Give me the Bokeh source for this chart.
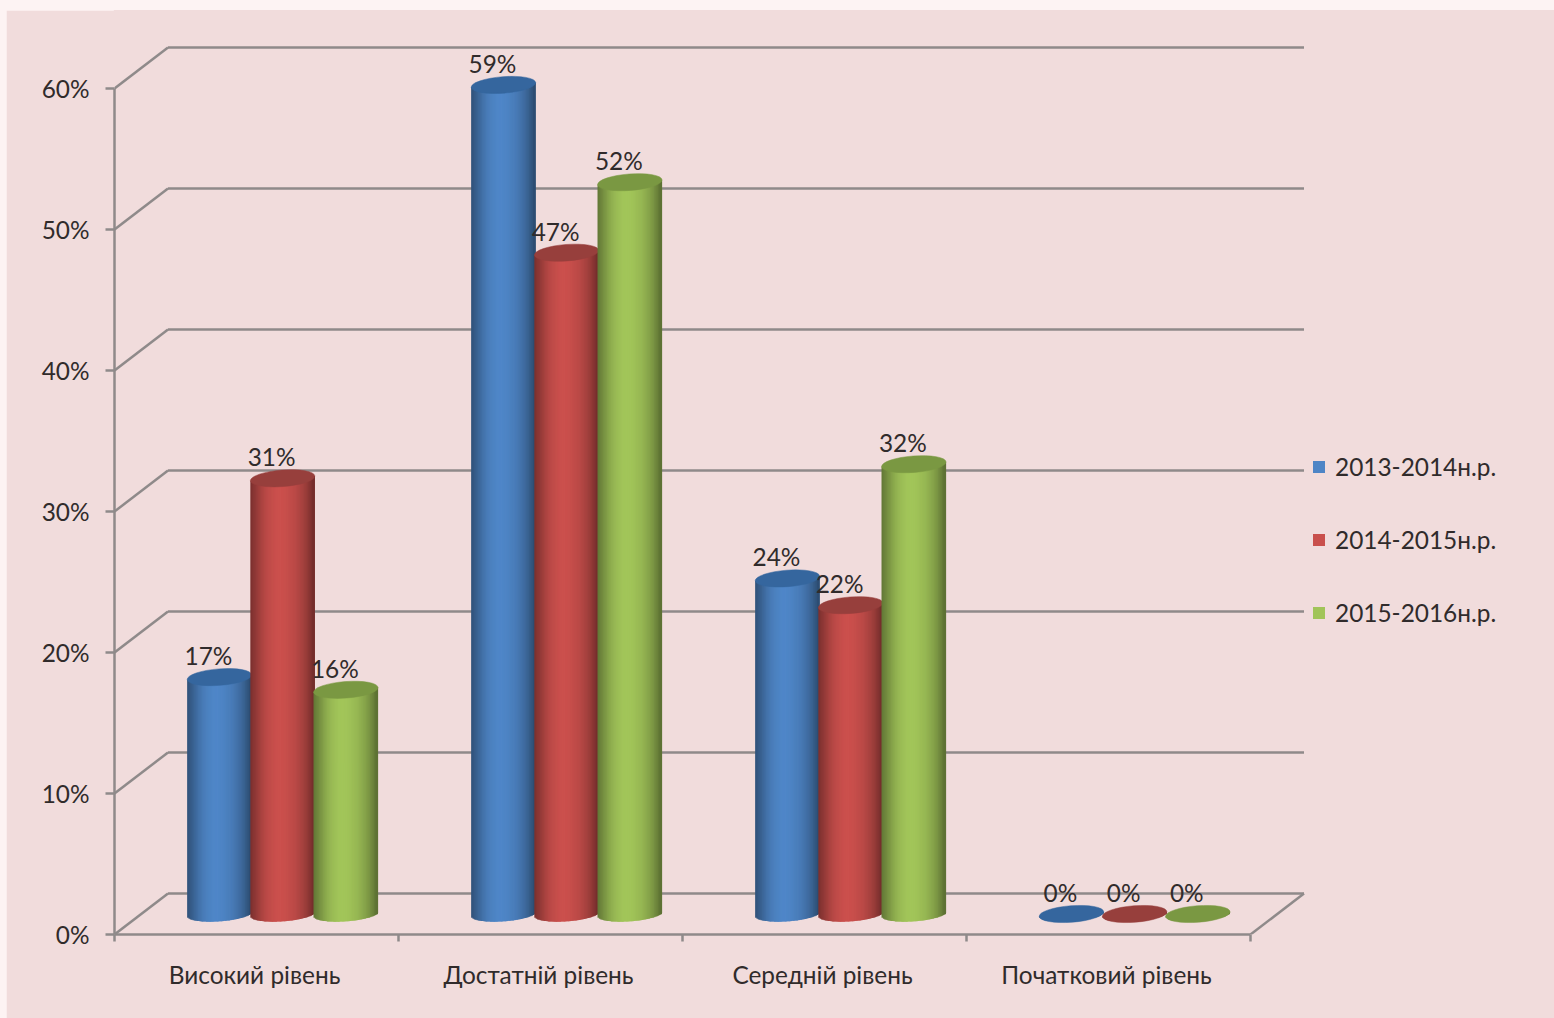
from bokeh.plotting import figure
from bokeh.models import Range1d, LinearAxis, FixedTicker, Legend, LegendItem, ColumnDataSource
from bokeh.core.properties import value
from bokeh.embed import file_html
from bokeh.resources import INLINE

categories = ["Високий рівень", "Достатній рівень", "Середній рівень", "Початковий рівень"]
series_names = ["2013-2014н.р.", "2014-2015н.р.", "2015-2016н.р."]
series_2013 = [16.8, 58.8, 23.8, 0]
series_2014 = [30.9, 46.9, 21.9, 0]
series_2015 = [15.9, 51.9, 31.9, 0]
labels_2013 = ["17%", "59%", "24%", "0%"]
labels_2014 = ["31%", "47%", "22%", "0%"]
labels_2015 = ["16%", "52%", "32%", "0%"]
y_ticks = [0, 10, 20, 30, 40, 50, 60]
y_tick_labels = ["0%", "10%", "20%", "30%", "40%", "50%", "60%"]

BG = "#F1DCDC"
GRID = "#8F8A8A"
TEXT = "#302B2B"
FONT = "Lato"
SIZE = "24.4px"
BASE = [(74, 126, 187), (190, 75, 72), (152, 185, 84)]
TOPS = ["#35669E", "#973F3C", "#7A9842"]
SHADE0 = [0.66, 0.72, 0.78, 0.84, 0.90, 0.95, 0.99, 1.02, 1.04, 1.06, 1.07, 1.07,
          1.06, 1.05, 1.03, 1.01, 0.99, 0.96, 0.92, 0.88, 0.83, 0.77, 0.70, 0.62]
SHADE = []
for a, b in zip(SHADE0, SHADE0[1:] + SHADE0[-1:]):
    SHADE += [a, (a + b) / 2]

W, H = 1548, 1008
PX_X = 284.0           # pixels per category
PX_Y = 14.1            # pixels per percent
LEFT, BOTTOM = 108, 84
x_max = (W - LEFT) / PX_X
y_max = (H - BOTTOM) / PX_Y
DX, DY = 53.5 / PX_X, 41.0 / PX_Y   # depth of the 3D box

p = figure(width=W, height=H, output_backend="svg", toolbar_location=None,
           x_range=Range1d(0, x_max), y_range=Range1d(0, y_max),
           x_axis_type=None, y_axis_type=None,
           min_border_left=LEFT, min_border_bottom=BOTTOM, min_border_top=0, min_border_right=0,
           background_fill_color=BG, border_fill_color=BG,
           outline_line_color=BG, outline_line_width=1.5)
p.grid.visible = False

xaxis = LinearAxis(ticker=FixedTicker(ticks=[i + 0.493 for i in range(len(categories))],
                                      minor_ticks=list(range(len(categories) + 1))),
                   major_label_overrides={i + 0.493: c for i, c in enumerate(categories)},
                   bounds=(0, len(categories)),
                   axis_line_color=GRID, axis_line_width=2.5,
                   major_tick_line_color=None, major_tick_in=0, major_tick_out=0,
                   minor_tick_line_color=GRID, minor_tick_line_width=2.5, minor_tick_in=0, minor_tick_out=7,
                   major_label_text_font=FONT, major_label_text_font_size=SIZE,
                   major_label_text_color=TEXT, major_label_standoff=18)
p.add_layout(xaxis, "below")

yaxis = LinearAxis(ticker=FixedTicker(ticks=y_ticks),
                   major_label_overrides=dict(zip(y_ticks, y_tick_labels)),
                   bounds=(0, 60),
                   axis_line_color=GRID, axis_line_width=2.5,
                   major_tick_line_color=GRID, major_tick_line_width=2.5, major_tick_in=0, major_tick_out=9,
                   minor_tick_line_color=None,
                   major_label_text_font=FONT, major_label_text_font_size=SIZE,
                   major_label_text_color=TEXT, major_label_standoff=16)
p.add_layout(yaxis, "left")

# walls and floor
n = len(categories)
x0 = [0.0 for v in y_ticks] + [DX for v in y_ticks] + [float(n)]
y0 = [float(v) for v in y_ticks] + [v + DY for v in y_ticks] + [0.0]
x1 = [DX for v in y_ticks] + [n + DX for v in y_ticks] + [n + DX]
y1 = [v + DY for v in y_ticks] + [v + DY for v in y_ticks] + [DY]
p.segment(x0, y0, x1, y1, line_color=GRID, line_width=2.5)

# cylinders
RX = 32.3 / PX_X
RY = 7.3 / PX_Y
TILT = 2.4 / PX_Y
LIFT = (934 - 913.5) / PX_Y
OVERLAP = 1.2 / PX_X
OFFSET = 0.592
STEP = 0.2225
STRIPS = len(SHADE)

all_series = [series_2013, series_2014, series_2015]
all_labels = [labels_2013, labels_2014, labels_2015]
items = []
for s, (vals, labs) in enumerate(zip(all_series, all_labels)):
    centers = [i + OFFSET + (s - 1) * STEP for i in range(n)]
    L, R, T, B, C = [], [], [], [], []
    for cx, v in zip(centers, vals):
        for k, f in enumerate(SHADE):
            u = (k + 0.5) / STRIPS * 2 - 1
            curve = (1 - u * u) ** 0.5
            L.append(cx + (k / STRIPS * 2 - 1) * RX)
            R.append(cx + ((k + 1) / STRIPS * 2 - 1) * RX + (OVERLAP if k < STRIPS - 1 else 0))
            T.append(LIFT + v + TILT * u)
            B.append(LIFT - RY * curve + TILT * u)
            C.append("#%02X%02X%02X" % tuple(min(255, int(c * f)) for c in BASE[s]))
    r = p.quad(left="l", right="r", top="t", bottom="b", fill_color="c", line_color=None,
               source=ColumnDataSource(dict(l=L, r=R, t=T, b=B, c=C)))
    items.append(LegendItem(label=series_names[s], renderers=[r], index=STRIPS // 2))
    tops = [LIFT + v for v in vals]
    p.ellipse(centers, tops, width=64.6, height=16.5, width_units="screen", height_units="screen",
              angle=0.075, fill_color=TOPS[s], line_color=TOPS[s], line_width=0.5)

for s, (vals, labs) in enumerate(zip(all_series, all_labels)):
    centers = [i + OFFSET + (s - 1) * STEP for i in range(n)]
    tops = [LIFT + v for v in vals]
    p.text(centers, tops, text=labs, text_font=value(FONT), text_font_size=SIZE, text_color=TEXT,
           text_align="center", text_baseline="middle", x_offset=-11, y_offset=-21.5)

legend = Legend(items=items, location=(1197, 307), orientation="vertical",
                margin=0, padding=0, spacing=43, glyph_width=15, glyph_height=15, label_height=30,
                label_standoff=9, background_fill_alpha=0, border_line_color=None,
                label_text_font=FONT, label_text_font_size=SIZE, label_text_color=TEXT)
p.add_layout(legend, "center")

html = file_html(p, INLINE)
style = "<style>html,body{background:#FDF3F3;overflow:hidden;}body{padding:10px 0 0 6px;}</style></head>"
html = html.replace("</head>", style, 1)
open("out.html", "w", encoding="utf-8").write(html)
